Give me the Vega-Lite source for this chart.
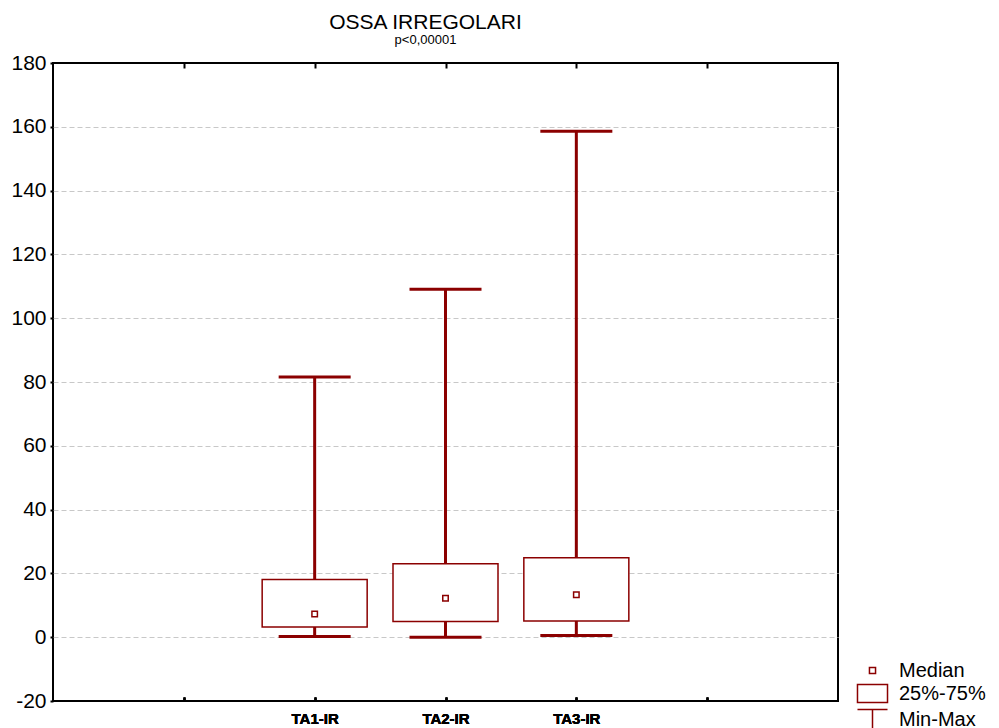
{
  "$schema": "https://vega.github.io/schema/vega-lite/v6.json",
  "width": 785,
  "height": 638,
  "autosize": "none",
  "padding": {"left": 53, "top": 63, "right": 161, "bottom": 27},
  "background": "white",
  "title": {
    "text": "OSSA IRREGOLARI",
    "subtitle": "p<0,00001",
    "anchor": "middle",
    "dx": -20,
    "offset": 5,
    "font": "Liberation Sans",
    "fontSize": 21,
    "fontWeight": "normal",
    "color": "black",
    "subtitleFont": "Liberation Sans",
    "subtitleFontSize": 13,
    "subtitleColor": "black",
    "subtitlePadding": 1
  },
  "config": {
    "view": {"stroke": "black", "strokeWidth": 2},
    "axis": {"labelFont": "Liberation Sans", "labelColor": "black", "tickColor": "black", "domain": false}
  },
  "data": {
    "values": [
      {"group": "TA1-IR", "min": 0.2, "q1": 3.2, "median": 7.3, "q3": 18.1, "max": 81.6},
      {"group": "TA2-IR", "min": 0.0, "q1": 4.9, "median": 12.2, "q3": 23.0, "max": 109.1},
      {"group": "TA3-IR", "min": 0.5, "q1": 5.1, "median": 13.3, "q3": 24.9, "max": 158.6}
    ]
  },
  "encoding": {
    "x": {
      "field": "group",
      "type": "nominal",
      "scale": {"type": "point", "domain": ["_a", "TA1-IR", "TA2-IR", "TA3-IR", "_b"], "padding": 1},
      "axis": {
        "orient": "bottom",
        "title": null,
        "labelAngle": 0,
        "labelExpr": "indexof(datum.value, '_') === 0 ? '' : datum.value",
        "labelFontSize": 15,
        "labelFontWeight": "bold",
        "labelPadding": 14,
        "tickSize": -4,
        "tickWidth": 2,
        "grid": false
      }
    }
  },
  "layer": [
    {
      "mark": {"type": "rule", "color": "#8B0000", "strokeWidth": 3},
      "encoding": {
        "x": {
          "field": "group",
          "type": "nominal",
          "axis": {
            "orient": "top",
            "title": null,
            "labels": false,
            "tickSize": -5,
            "tickWidth": 2,
            "grid": false
          }
        },
        "y": {
          "field": "min",
          "type": "quantitative",
          "scale": {"domain": [-20, 180], "nice": false, "zero": false},
          "axis": {
            "title": null,
            "values": [-20, 0, 20, 40, 60, 80, 100, 120, 140, 160, 180],
            "labelExpr": "'' + datum.value",
            "labelFontSize": 21,
            "tickSize": 3,
            "tickWidth": 2,
            "labelPadding": 4,
            "grid": true,
            "gridColor": "#c8c8c8",
            "gridDash": [5, 3],
            "gridWidth": 1,
            "gridOpacity": {"condition": {"test": "datum.value === 180 || datum.value === -20", "value": 0}, "value": 1}
          }
        },
        "y2": {"field": "max"}
      }
    },
    {
      "mark": {"type": "tick", "color": "#8B0000", "size": 72, "thickness": 3, "opacity": 1},
      "encoding": {"y": {"field": "min", "type": "quantitative"}}
    },
    {
      "mark": {"type": "tick", "color": "#8B0000", "size": 72, "thickness": 3, "opacity": 1},
      "encoding": {"y": {"field": "max", "type": "quantitative"}}
    },
    {
      "mark": {"type": "bar", "width": 105, "fill": "white", "stroke": "#8B0000", "strokeWidth": 1.5, "opacity": 1},
      "encoding": {
        "y": {"field": "q1", "type": "quantitative"},
        "y2": {"field": "q3"}
      }
    },
    {
      "mark": {"type": "point", "shape": "square", "size": 30, "filled": false, "fill": "white", "fillOpacity": 1, "stroke": "#8B0000", "strokeWidth": 1.5, "opacity": 1},
      "encoding": {"y": {"field": "median", "type": "quantitative"}}
    },
    {
      "data": {"values": [{"item": "Median"}, {"item": "25%-75%"}, {"item": "Min-Max"}]},
      "mark": {"type": "point", "opacity": 0, "size": 0},
      "encoding": {
        "x": {"value": 0},
        "y": {"value": 0},
        "shape": {
          "field": "item",
          "type": "nominal",
          "scale": {
            "domain": ["Median", "25%-75%", "Min-Max"],
            "range": [
              "M-0.29,-0.29H0.29V0.29H-0.29Z",
              "M-1.43,-0.86H1.43V0.86H-1.43Z",
              "M-1.43,-0.95H1.43M0,-0.95V0.95M-1.43,0.95H1.43"
            ]
          },
          "legend": {
            "title": null,
            "orient": "none",
            "legendX": 808,
            "legendY": 596,
            "padding": 0,
            "symbolSize": 441,
            "rowPadding": 0,
            "labelOffset": 15,
            "labelFont": "Liberation Sans",
            "labelFontSize": 20,
            "labelColor": "black",
            "labelLimit": 200,
            "symbolStrokeColor": "#8B0000",
            "symbolFillColor": "white",
            "symbolOpacity": 1,
            "symbolStrokeWidth": 1.5,
            "encode": {
              "symbols": {
                "update": {
                  "opacity": {"value": 1},
                  "fill": {"value": "white"},
                  "fillOpacity": {"value": 1},
                  "stroke": {"value": "#8B0000"},
                  "strokeOpacity": {"value": 1},
                  "strokeWidth": {"signal": "datum.value === 'Min-Max' ? 3 : 1.5"}
                }
              }
            }
          }
        }
      }
    }
  ]
}
